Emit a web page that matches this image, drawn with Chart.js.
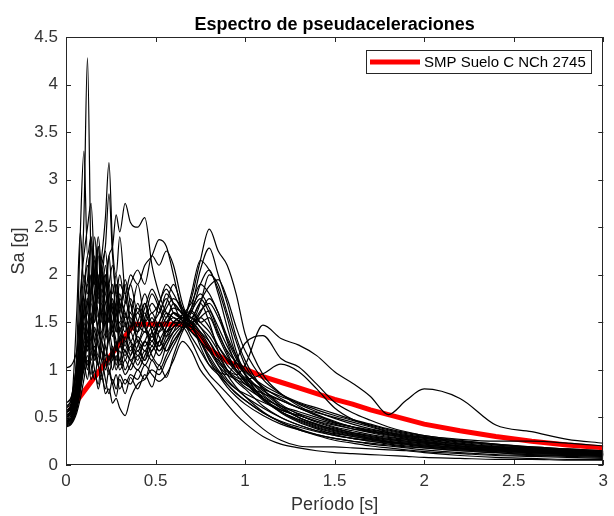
<!DOCTYPE html>
<html>
<head>
<meta charset="utf-8">
<script src="https://cdn.jsdelivr.net/npm/chart.js@4.4.1/dist/chart.umd.min.js"></script>
<style>
  html, body { margin: 0; padding: 0; background: #fff; }
  #wrap { width: 614px; height: 516px; }
</style>
</head>
<body>
<div id="wrap"><canvas id="espectro" width="614" height="516"></canvas></div>
<script>
// periodos comunes para todos los registros [s]
const periods = [
  0, 0.03, 0.06, 0.08, 0.10, 0.12, 0.14, 0.16, 0.18, 0.20, 0.22, 0.24, 0.26, 0.28, 0.30,
  0.33, 0.36, 0.40, 0.44, 0.48, 0.52, 0.56, 0.60, 0.65, 0.70, 0.75, 0.80, 0.85, 0.90, 0.95,
  1.0, 1.1, 1.2, 1.3, 1.4, 1.5, 1.6, 1.7, 1.8, 1.9, 2.0, 2.2, 2.4, 2.6, 2.8, 3.0
];

// espectros de los registros (Sa en g)
const reg01 = [0.55, 0.62, 0.90, 1.60, 2.60, 4.28, 2.10, 1.70, 2.30, 1.90, 2.00, 1.60, 1.40, 1.70, 1.30,
  1.20, 1.10, 1.00, 1.15, 1.30, 1.20, 1.35, 1.50, 1.55, 1.50, 1.25, 1.05, 0.95, 0.85, 0.75,
  0.68, 0.55, 0.45, 0.38, 0.32, 0.28, 0.25, 0.22, 0.20, 0.18, 0.16, 0.13, 0.11, 0.10, 0.09, 0.08];
const reg02 = [0.50, 0.60, 1.20, 2.45, 3.30, 2.20, 2.40, 1.90, 2.30, 1.80, 2.10, 1.70, 1.50, 1.90, 1.60,
  1.40, 1.70, 1.30, 1.50, 1.70, 1.60, 1.80, 1.70, 1.60, 1.55, 1.70, 1.50, 1.20, 1.00, 0.88,
  0.80, 0.62, 0.50, 0.42, 0.36, 0.33, 0.30, 0.27, 0.24, 0.22, 0.20, 0.17, 0.15, 0.13, 0.12, 0.11];
const reg03 = [0.45, 0.50, 0.80, 1.30, 1.90, 1.60, 2.00, 1.50, 1.90, 2.20, 2.60, 3.18, 2.30, 2.00, 2.40,
  1.80, 1.60, 1.90, 1.50, 1.30, 1.50, 1.40, 1.50, 1.50, 1.60, 1.90, 2.05, 1.80, 1.45, 1.15,
  0.95, 0.70, 0.56, 0.47, 0.40, 0.35, 0.31, 0.28, 0.25, 0.23, 0.21, 0.18, 0.15, 0.13, 0.12, 0.10];
const reg04 = [0.60, 0.70, 1.10, 1.80, 2.20, 2.50, 2.75, 2.00, 1.70, 2.10, 2.30, 2.85, 2.20, 1.80, 1.60,
  1.90, 1.50, 1.40, 1.70, 1.40, 1.20, 1.30, 1.45, 1.50, 1.45, 1.35, 1.20, 1.05, 0.95, 0.90,
  0.85, 0.72, 0.60, 0.50, 0.43, 0.37, 0.33, 0.30, 0.27, 0.25, 0.23, 0.20, 0.17, 0.15, 0.13, 0.12];
const reg05 = [0.50, 0.55, 0.80, 1.10, 1.50, 1.30, 1.70, 1.50, 1.90, 2.10, 1.80, 2.20, 2.30, 2.63, 2.45,
  2.75, 2.55, 2.50, 2.60, 2.10, 1.80, 1.60, 1.50, 1.45, 1.50, 1.40, 1.25, 1.05, 0.90, 0.80,
  0.72, 0.60, 0.50, 0.42, 0.36, 0.31, 0.28, 0.25, 0.23, 0.21, 0.19, 0.16, 0.14, 0.12, 0.11, 0.10];
const reg06 = [0.48, 0.52, 0.75, 1.00, 1.30, 1.20, 1.50, 1.40, 1.30, 1.60, 1.50, 1.80, 1.60, 1.70, 1.90,
  1.80, 2.00, 1.90, 2.10, 2.20, 2.37, 2.30, 2.00, 1.60, 1.45, 1.60, 1.75, 1.60, 1.30, 1.05,
  0.90, 0.70, 0.56, 0.46, 0.39, 0.34, 0.30, 0.27, 0.24, 0.22, 0.20, 0.17, 0.15, 0.13, 0.11, 0.10];
const reg07 = [0.42, 0.45, 0.60, 0.85, 1.10, 1.40, 1.20, 1.60, 1.40, 1.30, 1.70, 1.50, 1.90, 1.60, 1.50,
  1.70, 1.90, 2.05, 1.90, 2.20, 2.10, 2.25, 2.10, 1.70, 1.50, 1.70, 2.00, 1.90, 1.60, 1.30,
  1.05, 0.80, 0.64, 0.53, 0.45, 0.39, 0.34, 0.30, 0.27, 0.25, 0.23, 0.19, 0.16, 0.14, 0.12, 0.11];
const reg08 = [0.52, 0.56, 0.70, 0.90, 1.20, 1.00, 1.30, 1.10, 1.40, 1.20, 1.10, 1.40, 1.20, 1.00, 1.10,
  0.95, 1.05, 1.20, 1.10, 1.25, 1.15, 1.30, 1.40, 1.50, 1.75, 2.15, 2.48, 2.25, 2.10, 1.80,
  1.38, 0.95, 0.75, 0.62, 0.53, 0.46, 0.40, 0.36, 0.32, 0.29, 0.26, 0.22, 0.19, 0.17, 0.15, 0.13];
const reg09 = [0.46, 0.50, 0.65, 0.80, 1.00, 1.15, 0.95, 1.20, 1.05, 0.90, 1.10, 1.00, 0.85, 0.95, 0.80,
  0.90, 0.85, 1.00, 0.90, 1.10, 1.00, 1.15, 1.30, 1.45, 1.65, 2.05, 2.28, 2.00, 1.70, 1.35,
  1.10, 0.80, 0.62, 0.50, 0.42, 0.36, 0.32, 0.28, 0.25, 0.23, 0.21, 0.18, 0.16, 0.14, 0.12, 0.11];
const reg10 = [0.40, 0.43, 0.55, 0.70, 0.90, 1.10, 0.90, 1.00, 0.80, 0.95, 0.75, 0.80, 0.65, 0.70, 0.60,
  0.52, 0.70, 0.85, 0.90, 1.00, 0.95, 1.10, 1.25, 1.45, 1.80, 2.15, 2.05, 1.85, 1.55, 1.20,
  0.95, 0.70, 0.55, 0.45, 0.38, 0.32, 0.28, 0.25, 0.22, 0.20, 0.18, 0.15, 0.13, 0.11, 0.10, 0.09];
const reg11 = [0.55, 0.60, 0.75, 0.95, 1.20, 1.40, 1.60, 1.30, 1.50, 1.70, 1.40, 1.30, 1.50, 1.20, 1.35,
  1.10, 1.25, 1.05, 1.20, 1.10, 1.30, 1.45, 1.60, 1.55, 1.40, 1.30, 1.20, 1.10, 1.00, 0.95,
  1.05, 1.47, 1.33, 1.26, 1.15, 0.98, 0.86, 0.72, 0.53, 0.68, 0.80, 0.70, 0.42, 0.35, 0.27, 0.23];
const reg12 = [0.50, 0.55, 0.70, 1.00, 1.40, 1.20, 1.50, 1.80, 1.60, 1.40, 1.60, 1.30, 1.45, 1.30, 1.10,
  1.30, 1.20, 1.35, 1.25, 1.40, 1.50, 1.35, 1.45, 1.50, 1.35, 1.20, 1.05, 0.98, 0.95, 1.10,
  1.28, 1.36, 1.12, 1.03, 0.85, 0.66, 0.55, 0.47, 0.40, 0.35, 0.31, 0.27, 0.25, 0.25, 0.23, 0.20];
const reg13 = [0.58, 0.62, 0.85, 1.20, 1.60, 1.90, 1.50, 1.70, 2.00, 1.60, 1.80, 1.50, 1.70, 1.40, 1.50,
  1.30, 1.40, 1.20, 1.30, 1.20, 1.40, 1.55, 1.65, 1.60, 1.50, 1.40, 1.30, 1.15, 1.00, 0.92,
  0.90, 0.96, 1.06, 0.98, 0.80, 0.60, 0.48, 0.41, 0.36, 0.32, 0.29, 0.25, 0.21, 0.18, 0.16, 0.14];
const reg14 = [0.44, 0.47, 0.60, 0.80, 1.05, 0.90, 1.20, 1.00, 0.85, 1.10, 0.90, 0.75, 0.90, 0.80, 0.95,
  0.85, 0.95, 0.90, 1.05, 0.95, 0.88, 0.95, 1.10, 1.30, 1.20, 1.00, 0.88, 0.76, 0.64, 0.53,
  0.44, 0.30, 0.22, 0.18, 0.15, 0.13, 0.12, 0.11, 0.10, 0.09, 0.08, 0.07, 0.06, 0.06, 0.05, 0.05];
const reg15 = [0.47, 0.50, 0.65, 0.90, 1.15, 1.35, 1.10, 1.25, 1.05, 1.20, 1.00, 1.15, 1.00, 1.15, 1.00,
  1.10, 1.00, 1.15, 1.05, 1.20, 1.30, 1.20, 1.35, 1.45, 1.30, 1.10, 0.95, 0.85, 0.75, 0.65,
  0.55, 0.38, 0.26, 0.20, 0.19, 0.19, 0.18, 0.17, 0.16, 0.15, 0.13, 0.10, 0.08, 0.07, 0.06, 0.06];
const reg16 = [1.02, 1.05, 1.20, 1.50, 1.30, 1.70, 2.00, 1.60, 1.80, 1.50, 1.90, 1.60, 1.40, 1.60, 1.80,
  1.50, 1.30, 1.50, 1.70, 1.50, 1.60, 1.75, 1.60, 1.55, 1.60, 1.50, 1.55, 1.35, 1.15, 1.00,
  0.88, 0.70, 0.58, 0.52, 0.46, 0.42, 0.38, 0.35, 0.32, 0.29, 0.26, 0.22, 0.19, 0.17, 0.15, 0.13];
const reg17 = [0.62, 0.68, 1.00, 1.40, 1.80, 2.10, 1.70, 2.20, 1.80, 2.00, 1.70, 1.90, 2.10, 1.80, 2.00,
  1.70, 1.90, 1.60, 1.80, 1.60, 1.70, 1.90, 1.80, 1.62, 1.55, 1.45, 1.35, 1.20, 1.05, 0.95,
  0.85, 0.75, 0.68, 0.60, 0.52, 0.45, 0.40, 0.36, 0.33, 0.30, 0.28, 0.24, 0.20, 0.18, 0.16, 0.14];
const reg18 = [0.45, 0.48, 0.70, 1.20, 1.70, 1.40, 1.80, 2.40, 1.90, 1.60, 2.00, 1.70, 1.50, 1.70, 1.40,
  1.60, 1.40, 1.70, 1.50, 1.60, 1.45, 1.60, 1.55, 1.50, 1.65, 1.80, 1.65, 1.45, 1.25, 1.08,
  0.95, 0.78, 0.68, 0.60, 0.55, 0.50, 0.45, 0.40, 0.35, 0.31, 0.28, 0.23, 0.19, 0.17, 0.15, 0.13];
const reg19 = [0.50, 0.54, 0.75, 1.00, 1.30, 1.60, 1.35, 1.20, 1.50, 1.30, 1.15, 1.30, 1.10, 1.25, 1.05,
  1.20, 1.10, 1.25, 1.40, 1.30, 1.50, 1.65, 1.75, 1.65, 1.50, 1.55, 1.45, 1.25, 1.10, 0.98,
  0.90, 0.80, 0.72, 0.65, 0.58, 0.52, 0.47, 0.42, 0.37, 0.33, 0.30, 0.25, 0.21, 0.18, 0.16, 0.14];
const reg20 = [0.55, 0.60, 0.90, 1.30, 1.10, 1.50, 1.30, 1.70, 1.40, 1.80, 1.50, 1.30, 1.60, 1.40, 1.70,
  1.45, 1.60, 1.40, 1.55, 1.80, 1.65, 1.50, 1.55, 1.48, 1.40, 1.30, 1.15, 1.00, 0.88, 0.80,
  0.75, 0.66, 0.58, 0.52, 0.46, 0.40, 0.36, 0.32, 0.29, 0.27, 0.25, 0.21, 0.18, 0.16, 0.14, 0.12];
const reg21 = [0.43, 0.46, 0.62, 0.85, 1.10, 1.30, 1.55, 1.30, 1.15, 1.40, 1.25, 1.10, 1.25, 1.05, 1.20,
  1.00, 1.15, 1.30, 1.20, 1.35, 1.25, 1.40, 1.50, 1.58, 1.70, 1.90, 1.80, 1.60, 1.35, 1.15,
  1.00, 0.82, 0.70, 0.60, 0.52, 0.45, 0.40, 0.35, 0.31, 0.28, 0.25, 0.20, 0.17, 0.15, 0.13, 0.12];
const reg22 = [0.60, 0.65, 0.95, 1.50, 2.00, 1.80, 2.40, 1.90, 2.20, 1.70, 1.90, 2.20, 1.80, 2.00, 1.70,
  1.55, 1.75, 1.50, 1.40, 1.55, 1.40, 1.50, 1.60, 1.52, 1.45, 1.30, 1.10, 0.95, 0.82, 0.72,
  0.64, 0.52, 0.43, 0.37, 0.32, 0.28, 0.25, 0.23, 0.21, 0.19, 0.18, 0.15, 0.13, 0.11, 0.10, 0.09];
const reg23 = [0.53, 0.57, 0.80, 1.10, 1.45, 1.25, 1.40, 1.15, 1.30, 1.10, 1.25, 1.05, 1.20, 1.10, 1.25,
  1.15, 1.30, 1.15, 1.30, 1.45, 1.35, 1.20, 1.30, 1.42, 1.52, 1.72, 1.88, 1.95, 1.75, 1.45,
  1.20, 0.90, 0.75, 0.64, 0.56, 0.49, 0.43, 0.38, 0.34, 0.30, 0.27, 0.22, 0.19, 0.16, 0.14, 0.12];
const reg24 = [0.57, 0.65, 1.60, 2.45, 1.90, 2.20, 1.80, 2.00, 2.40, 2.00, 1.70, 1.90, 1.65, 1.50, 1.75,
  1.60, 1.45, 1.60, 1.45, 1.35, 1.50, 1.40, 1.45, 1.55, 1.62, 1.50, 1.40, 1.25, 1.12, 1.00,
  0.92, 0.76, 0.62, 0.54, 0.48, 0.43, 0.38, 0.34, 0.30, 0.27, 0.24, 0.20, 0.17, 0.15, 0.13, 0.11];
const reg25 = [0.48, 0.52, 0.70, 1.05, 1.50, 1.75, 1.40, 1.65, 1.95, 1.55, 1.35, 1.65, 1.45, 1.20, 1.45,
  1.25, 1.55, 1.30, 1.10, 1.40, 1.25, 1.45, 1.60, 1.52, 1.42, 1.55, 1.62, 1.40, 1.18, 1.00,
  0.87, 0.68, 0.56, 0.48, 0.41, 0.36, 0.32, 0.29, 0.26, 0.24, 0.22, 0.18, 0.16, 0.14, 0.12, 0.11];
const reg26 = [0.41, 0.44, 0.58, 0.78, 1.05, 1.25, 1.05, 0.90, 1.15, 0.95, 0.80, 1.00, 0.85, 0.72, 0.90,
  0.75, 0.92, 0.80, 0.95, 0.82, 1.05, 0.92, 1.15, 1.40, 1.55, 1.45, 1.30, 1.12, 0.95, 0.82,
  0.72, 0.56, 0.45, 0.37, 0.31, 0.26, 0.23, 0.20, 0.18, 0.16, 0.14, 0.12, 0.10, 0.09, 0.08, 0.07];
const reg27 = [0.65, 0.72, 1.05, 1.35, 1.75, 1.50, 1.85, 2.15, 1.75, 1.95, 2.25, 1.85, 1.60, 1.90, 1.65,
  1.95, 1.70, 1.45, 1.65, 1.85, 1.70, 1.55, 1.70, 1.58, 1.48, 1.38, 1.22, 1.08, 0.98, 0.90,
  0.82, 0.70, 0.62, 0.56, 0.50, 0.44, 0.40, 0.37, 0.34, 0.31, 0.29, 0.25, 0.22, 0.19, 0.17, 0.15];
const reg28 = [0.46, 0.49, 0.66, 0.92, 1.25, 1.05, 1.35, 1.15, 1.05, 1.30, 1.10, 0.95, 1.15, 1.30, 1.10,
  1.35, 1.15, 1.40, 1.60, 1.45, 1.70, 1.85, 1.70, 1.52, 1.62, 1.75, 1.60, 1.38, 1.20, 1.08,
  0.98, 0.84, 0.74, 0.66, 0.60, 0.54, 0.48, 0.43, 0.38, 0.34, 0.31, 0.26, 0.22, 0.19, 0.17, 0.15];
const reg29 = [0.52, 0.58, 0.85, 1.25, 1.65, 1.95, 2.30, 1.80, 1.55, 1.85, 1.60, 1.40, 1.75, 1.50, 1.30,
  1.50, 1.30, 1.10, 1.30, 1.15, 1.05, 1.25, 1.40, 1.55, 1.45, 1.30, 1.12, 0.98, 0.85, 0.76,
  0.68, 0.55, 0.46, 0.40, 0.35, 0.31, 0.28, 0.26, 0.24, 0.22, 0.20, 0.17, 0.15, 0.13, 0.12, 0.11];
const reg30 = [0.56, 0.60, 0.82, 1.15, 1.00, 1.30, 1.15, 1.45, 1.25, 1.10, 1.35, 1.55, 1.35, 1.60, 1.40,
  1.20, 1.45, 1.65, 1.45, 1.25, 1.50, 1.70, 1.90, 1.65, 1.48, 1.62, 1.70, 1.55, 1.32, 1.12,
  0.96, 0.74, 0.60, 0.50, 0.43, 0.38, 0.34, 0.31, 0.28, 0.26, 0.24, 0.20, 0.18, 0.16, 0.14, 0.12];

const records = [reg01, reg02, reg03, reg04, reg05, reg06, reg07, reg08, reg09, reg10,
  reg11, reg12, reg13, reg14, reg15, reg16, reg17, reg18, reg19, reg20,
  reg21, reg22, reg23, reg24, reg25, reg26, reg27, reg28, reg29, reg30];

// espectro de diseño NCh 2745 (suelo C)
const nchLabel = 'SMP Suelo C NCh 2745';
const nchPeriods = [0.02, 0.38, 0.67, 0.70, 0.75, 0.80, 0.90, 1.0, 1.1, 1.2, 1.3, 1.4, 1.5, 1.6,
  1.7, 1.8, 1.9, 2.0, 2.2, 2.4, 2.6, 2.8, 3.0];
const nchSa = [0.57, 1.48, 1.48, 1.45, 1.34, 1.22, 1.09, 1.01, 0.93, 0.87, 0.81, 0.75, 0.69, 0.64,
  0.58, 0.53, 0.48, 0.43, 0.36, 0.30, 0.25, 0.21, 0.18];

// ticks de los ejes
const xTicks = [0, 0.5, 1, 1.5, 2, 2.5, 3];
const yTicks = [0, 0.5, 1, 1.5, 2, 2.5, 3, 3.5, 4, 4.5];

const family = '"Liberation Sans", Arial, Helvetica, sans-serif';
const axisColor = '#262626';

const datasets = records.map(r => ({
  data: periods.map((t, i) => ({ x: t, y: r[i] })),
  borderColor: '#000',
  borderWidth: 1.2,
  pointRadius: 0,
  cubicInterpolationMode: 'monotone',
  fill: false
}));

// la curva roja va al final para quedar encima
datasets.push({
  label: nchLabel,
  data: nchPeriods.map((t, i) => ({ x: t, y: nchSa[i] })),
  borderColor: '#ff0000',
  borderWidth: 5,
  pointRadius: 0,
  tension: 0,
  fill: false
});

// caja del eje + ticks hacia adentro (estilo matlab) + leyenda con marco
const matlabAxes = {
  id: 'matlabAxes',
  afterDraw(chart) {
    const { ctx, chartArea: a, scales: { x, y } } = chart;
    ctx.save();
    ctx.strokeStyle = axisColor;
    ctx.lineWidth = 1;
    ctx.beginPath();
    xTicks.forEach(v => {
      const px = Math.round(x.getPixelForValue(v)) + 0.5;
      ctx.moveTo(px, a.bottom); ctx.lineTo(px, a.bottom - 5);
      ctx.moveTo(px, a.top); ctx.lineTo(px, a.top + 5);
    });
    yTicks.forEach(v => {
      const py = Math.round(y.getPixelForValue(v)) + 0.5;
      ctx.moveTo(a.left, py); ctx.lineTo(a.left + 5, py);
      ctx.moveTo(a.right, py); ctx.lineTo(a.right - 5, py);
    });
    ctx.stroke();
    ctx.strokeRect(Math.round(a.left) + 0.5, Math.round(a.top) + 0.5,
      Math.round(a.right - a.left) - 1, Math.round(a.bottom - a.top) - 1);

    // leyenda
    ctx.font = '15px ' + family;
    const tw = ctx.measureText(nchLabel).width;
    const w = Math.round(4 + 50 + 4 + tw + 5);
    const h = 23;
    const x0 = Math.round(a.right - 12 - w);
    const y0 = Math.round(a.top + 13);
    ctx.fillStyle = '#fff';
    ctx.fillRect(x0, y0, w, h);
    ctx.strokeStyle = axisColor;
    ctx.lineWidth = 1;
    ctx.strokeRect(x0 + 0.5, y0 + 0.5, w, h);
    ctx.strokeStyle = '#ff0000';
    ctx.lineWidth = 5;
    ctx.beginPath();
    ctx.moveTo(x0 + 4, y0 + h / 2 + 0.5);
    ctx.lineTo(x0 + 54, y0 + h / 2 + 0.5);
    ctx.stroke();
    ctx.fillStyle = '#000';
    ctx.textBaseline = 'middle';
    ctx.textAlign = 'left';
    ctx.fillText(nchLabel, x0 + 58, y0 + h / 2 + 1);
    ctx.restore();
  }
};

new Chart(document.getElementById('espectro'), {
  type: 'line',
  data: { datasets: datasets },
  options: {
    responsive: false,
    animation: false,
    layout: { padding: { left: 0, right: 7, top: 0, bottom: 0 } },
    plugins: {
      legend: { display: false },
      tooltip: { enabled: false },
      title: {
        display: true,
        fullSize: false,   // centrado sobre el area del grafico
        text: 'Espectro de pseudaceleraciones',
        color: '#000',
        font: { family: family, size: 18, weight: 'bold' },
        padding: { top: 14, bottom: 1.4 }
      }
    },
    scales: {
      x: {
        type: 'linear',
        min: 0,
        max: 3,
        grid: { display: false, drawTicks: false },
        border: { display: false },
        afterBuildTicks: s => { s.ticks = xTicks.map(v => ({ value: v })); },
        afterFit: s => { s.height = 51; },
        ticks: {
          color: '#333',
          font: { family: family, size: 17 },
          padding: 6,
          maxRotation: 0,
          autoSkip: false,
          callback: v => String(v)
        },
        title: {
          display: true,
          text: 'Período [s]',
          color: '#333',
          font: { family: family, size: 18 },
          padding: { top: 0, bottom: 0 }
        }
      },
      y: {
        type: 'linear',
        min: 0,
        max: 4.5,
        grid: { display: false, drawTicks: false },
        border: { display: false },
        afterBuildTicks: s => { s.ticks = yTicks.map(v => ({ value: v })); },
        afterFit: s => { s.width = 66; },
        ticks: {
          color: '#333',
          font: { family: family, size: 17 },
          padding: 8,
          autoSkip: false,
          callback: v => String(v)
        },
        title: {
          display: true,
          text: 'Sa [g]',
          color: '#333',
          font: { family: family, size: 18 },
          padding: { top: 8, bottom: 0 }
        }
      }
    }
  },
  plugins: [matlabAxes]
});
</script>
</body>
</html>
